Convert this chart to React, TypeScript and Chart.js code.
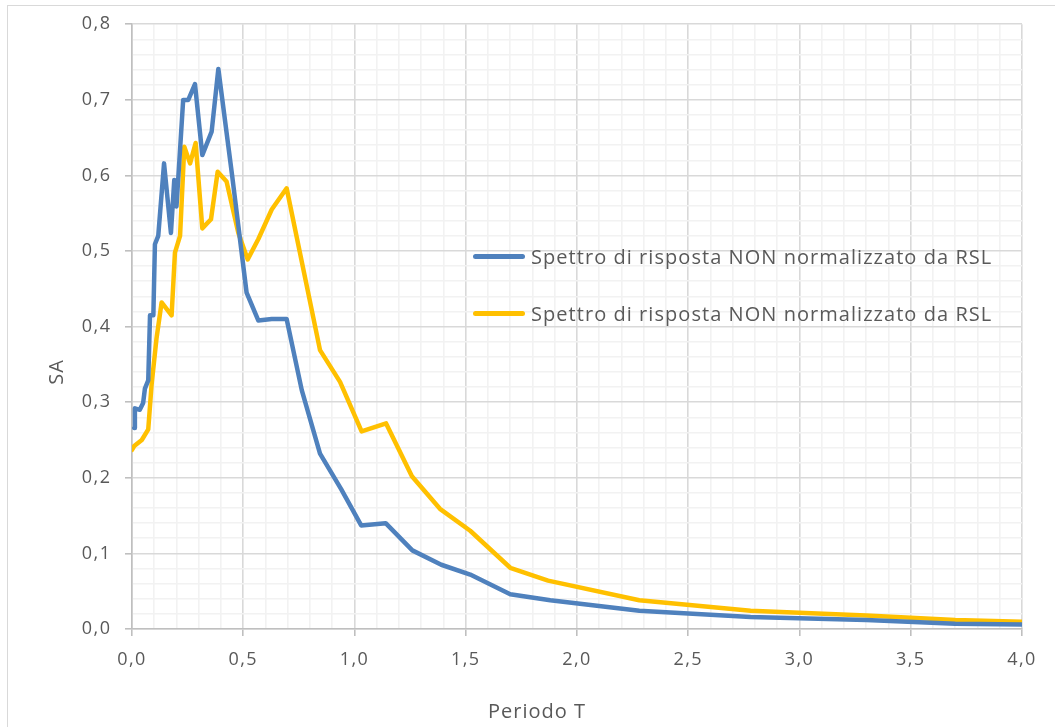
import React, { useEffect, useRef } from "react";
import { Chart, registerables } from "chart.js";

Chart.register(...registerables);

const seriesLabels = [
  "Spettro di risposta NON normalizzato da RSL",
  "Spettro di risposta NON normalizzato da RSL",
];
const seriesColors = ["#4F81BD", "#FFC000"];

const periodBlue = [0.01, 0.013, 0.035, 0.05, 0.058, 0.073, 0.081, 0.096, 0.103, 0.118, 0.144, 0.175, 0.19, 0.2, 0.23, 0.253, 0.283, 0.316, 0.358, 0.388, 0.45, 0.515, 0.568, 0.628, 0.695, 0.763, 0.845, 0.94, 1.03, 1.14, 1.26, 1.39, 1.52, 1.7, 1.88, 2.28, 2.78, 3.3, 3.7, 4.0];
const saBlue = [0.266, 0.292, 0.29, 0.299, 0.318, 0.329, 0.415, 0.415, 0.509, 0.52, 0.616, 0.524, 0.594, 0.559, 0.70, 0.70, 0.721, 0.627, 0.658, 0.741, 0.6, 0.445, 0.408, 0.41, 0.41, 0.316, 0.232, 0.185, 0.137, 0.14, 0.104, 0.085, 0.072, 0.046, 0.038, 0.024, 0.016, 0.012, 0.007, 0.006];

const periodYellow = [0, 0.01, 0.044, 0.073, 0.088, 0.11, 0.133, 0.178, 0.193, 0.216, 0.235, 0.261, 0.286, 0.316, 0.355, 0.385, 0.425, 0.478, 0.52, 0.568, 0.628, 0.695, 0.845, 0.935, 1.032, 1.142, 1.258, 1.384, 1.52, 1.7, 1.87, 2.28, 2.78, 3.3, 3.7, 4.0];
const saYellow = [0.237, 0.242, 0.25, 0.264, 0.323, 0.384, 0.432, 0.415, 0.498, 0.52, 0.638, 0.616, 0.643, 0.53, 0.542, 0.605, 0.592, 0.524, 0.489, 0.516, 0.555, 0.583, 0.369, 0.327, 0.2615, 0.272, 0.202, 0.159, 0.13, 0.081, 0.064, 0.038, 0.024, 0.018, 0.012, 0.0096];

const xTitle = "Periodo T";
const yTitle = "SA";

const FONT = "'Open Sans', sans-serif";
const TEXT = "#595959";

const isMult = (v: number, step: number) => {
  const r = v / step;
  return Math.abs(r - Math.round(r)) < 1e-6;
};

const fmt = (v: number) => v.toFixed(1).replace(".", ",");

const decorPlugin = {
  id: "decor",
  beforeDraw(chart: any) {
    const ctx = chart.ctx;
    ctx.save();
    ctx.fillStyle = "#FFFFFF";
    ctx.fillRect(0, 0, chart.width, chart.height);
    ctx.strokeStyle = "#D9D9D9";
    ctx.lineWidth = 1;
    ctx.strokeRect(7.5, 5.5, 1060, 740);
    ctx.restore();
    (ctx as any).letterSpacing = "1.5px";
  },
  afterDraw(chart: any) {
    const ctx = chart.ctx;
    ctx.save();
    (ctx as any).letterSpacing = "1px";
    ctx.fillStyle = TEXT;
    ctx.font = `20px ${FONT}`;
    ctx.textAlign = "center";
    ctx.textBaseline = "middle";
    ctx.fillText(xTitle, 537, 712);
    ctx.translate(57, 372);
    ctx.rotate(-Math.PI / 2);
    ctx.fillText(yTitle, 0, 0);
    ctx.restore();
  },
};

export default function App() {
  const ref = useRef<HTMLCanvasElement | null>(null);

  useEffect(() => {
    if (!ref.current) return;
    const chart = new Chart(ref.current, {
      type: "scatter",
      data: {
        datasets: [
          {
            label: seriesLabels[0],
            data: periodBlue.map((x, i) => ({ x, y: saBlue[i] })),
            borderColor: seriesColors[0],
            backgroundColor: seriesColors[0],
            borderWidth: 4.5,
            showLine: true,
            pointRadius: 0,
            borderJoinStyle: "round",
            borderCapStyle: "round",
          },
          {
            label: seriesLabels[1],
            data: periodYellow.map((x, i) => ({ x, y: saYellow[i] })),
            borderColor: seriesColors[1],
            backgroundColor: seriesColors[1],
            borderWidth: 4.5,
            showLine: true,
            pointRadius: 0,
            borderJoinStyle: "round",
            borderCapStyle: "round",
          },
        ],
      },
      options: {
        responsive: false,
        animation: false,
        layout: { padding: { left: 0, top: 20, right: 33, bottom: 0 } },
        plugins: {
          legend: { display: false },
          tooltip: { enabled: false },
        },
        scales: {
          x: {
            type: "linear",
            min: 0,
            max: 4,
            afterFit: (s: any) => {
              s.height = 98;
            },
            ticks: {
              stepSize: 0.1,
              autoSkip: false,
              maxRotation: 0,
              padding: 13,
              color: TEXT,
              font: { family: FONT, size: 18 },
              callback: (v: any) => (isMult(Number(v), 0.5) ? fmt(Number(v)) : ""),
            },
            grid: {
              color: (c: any) => (isMult(c.tick.value, 0.5) ? "#D9D9D9" : "#F2F2F2"),
              lineWidth: 1.6,
              tickLength: 7,
              tickColor: (c: any) => (isMult(c.tick.value, 0.5) ? "#BFBFBF" : "rgba(0,0,0,0)"),
            },
            border: { color: "#BFBFBF", width: 1.6 },
            title: { display: false, text: xTitle },
          },
          y: {
            type: "linear",
            min: 0,
            max: 0.8,
            afterFit: (s: any) => {
              s.width = 132;
            },
            ticks: {
              stepSize: 0.02,
              autoSkip: false,
              padding: 13.5,
              color: TEXT,
              font: { family: FONT, size: 18 },
              callback: (v: any) => (isMult(Number(v), 0.1) ? fmt(Number(v)) : ""),
            },
            grid: {
              color: (c: any) => (isMult(c.tick.value, 0.1) ? "#D9D9D9" : "#F2F2F2"),
              lineWidth: 1.6,
              tickLength: 7,
              tickColor: (c: any) => (isMult(c.tick.value, 0.1) ? "#BFBFBF" : "rgba(0,0,0,0)"),
            },
            border: { color: "#BFBFBF", width: 1.6 },
            title: { display: false, text: yTitle },
          },
        },
      },
      plugins: [decorPlugin],
    });
    return () => chart.destroy();
  }, []);

  const legendRows = [256, 313];

  return (
    <div style={{ position: "fixed", left: 0, top: 0, width: 1055, height: 727, background: "#fff" }}>
      <canvas ref={ref} width={1055} height={727} style={{ display: "block" }} />
      {seriesLabels.map((lab, i) => (
        <div
          key={i}
          style={{
            position: "absolute",
            left: 473,
            top: legendRows[i] - 15,
            height: 30,
            display: "flex",
            alignItems: "center",
            whiteSpace: "nowrap",
            fontFamily: FONT,
            fontSize: 20,
            letterSpacing: "1.05px",
            color: TEXT,
          }}
        >
          <span
            style={{
              display: "inline-block",
              width: 52,
              height: 5,
              borderRadius: 3,
              background: seriesColors[i],
              marginRight: 6,
            }}
          />
          <span>{lab}</span>
        </div>
      ))}
    </div>
  );
}
